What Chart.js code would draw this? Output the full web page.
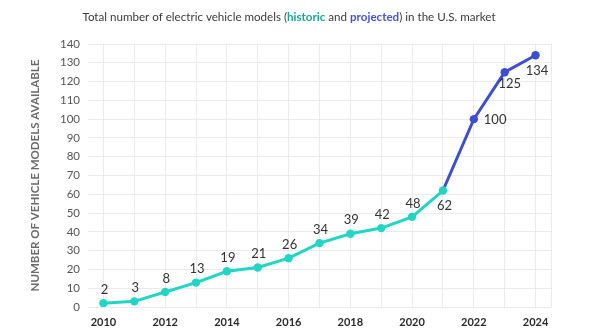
<!DOCTYPE html>
<html>
<head>
<meta charset="utf-8">
<script src="https://cdn.jsdelivr.net/npm/chart.js@4"></script>
<style>
  html, body { margin: 0; padding: 0; background: #ffffff; }
  #wrap { width: 595px; height: 336px; position: relative; }
</style>
</head>
<body>
<div id="wrap"><canvas id="ev"></canvas></div>
<script>
// Electric vehicle models available in the U.S. market
const historicYears = [2010, 2011, 2012, 2013, 2014, 2015, 2016, 2017, 2018, 2019, 2020, 2021];
const historicModels = [2, 3, 8, 13, 19, 21, 26, 34, 39, 42, 48, 62];
const projectedYears = [2021, 2022, 2023, 2024];
const projectedModels = [62, 100, 125, 134];
const yearTicks = [2010, 2011, 2012, 2013, 2014, 2015, 2016, 2017, 2018, 2019, 2020, 2021, 2022, 2023, 2024];

const FONT = "Lato, 'Open Sans', sans-serif";
const TEAL = '#22d6c4';
const BLUE = '#3d4fcf';

// where each value label sits relative to its point
const historicLabelSpot = ['above', 'above', 'above', 'above', 'above', 'above', 'above', 'above', 'above', 'above', 'above', 'below'];
const projectedLabelSpot = ['none', 'right', 'belowRight', 'below'];

const toPoints = (xs, ys) => xs.map((x, i) => ({ x: x, y: ys[i] }));

// headline with coloured keywords
const headline = {
  id: 'headline',
  afterDraw(chart) {
    const ctx = chart.ctx;
    const parts = [
      { t: 'Total number of electric vehicle models (', c: '#3a3a3a', w: '400' },
      { t: 'historic', c: '#15a899', w: '700' },
      { t: ' and ', c: '#3a3a3a', w: '400' },
      { t: 'projected', c: '#4652d6', w: '700' },
      { t: ') in the U.S. market', c: '#3a3a3a', w: '400' }
    ];
    const size = 11.6;
    ctx.save();
    ctx.textBaseline = 'middle';
    ctx.textAlign = 'left';
    let total = 0;
    parts.forEach(p => { ctx.font = p.w + ' ' + size + 'px ' + FONT; p.width = ctx.measureText(p.t).width; total += p.width; });
    let x = 289 - total / 2;
    parts.forEach(p => {
      ctx.font = p.w + ' ' + size + 'px ' + FONT;
      ctx.fillStyle = p.c;
      ctx.fillText(p.t, x, 17);
      x += p.width;
    });
    ctx.restore();
  }
};

// value labels next to the points
const valueLabels = {
  id: 'valueLabels',
  afterDatasetsDraw(chart) {
    const ctx = chart.ctx;
    const spots = [historicLabelSpot, projectedLabelSpot];
    ctx.save();
    ctx.font = '400 13px ' + FONT;
    ctx.fillStyle = '#333333';
    ctx.textBaseline = 'middle';
    chart.data.datasets.forEach((ds, di) => {
      const meta = chart.getDatasetMeta(di);
      meta.data.forEach((pt, i) => {
        const spot = spots[di][i];
        if (spot === 'none') return;
        const txt = String(ds.data[i].y);
        let x = pt.x, y = pt.y;
        ctx.textAlign = 'center';
        if (spot === 'above') { x += 1; y -= 13.5; }
        else if (spot === 'below') { x += 1.5; y += 15.5; }
        else if (spot === 'right') { ctx.textAlign = 'left'; x += 10; y += 1; }
        else if (spot === 'belowRight') { x += 5; y += 11.5; }
        ctx.fillText(txt, x, y);
      });
    });
    ctx.restore();
  }
};

new Chart(document.getElementById('ev'), {
  type: 'line',
  data: {
    datasets: [
      {
        label: 'historic',
        data: toPoints(historicYears, historicModels),
        borderColor: TEAL,
        backgroundColor: TEAL,
        borderWidth: 3,
        pointRadius: 4.2,
        pointHoverRadius: 4.2,
        pointBorderWidth: 0,
        tension: 0
      },
      {
        label: 'projected',
        data: toPoints(projectedYears, projectedModels),
        borderColor: BLUE,
        backgroundColor: BLUE,
        borderWidth: 3,
        pointRadius: [0, 4.2, 4.2, 4.2],
        pointHoverRadius: 4.2,
        pointBorderWidth: 0,
        tension: 0
      }
    ]
  },
  options: {
    responsive: true,
    maintainAspectRatio: false,
    animation: false,
    events: [],
    layout: { padding: { top: 44, right: 44, bottom: 0, left: 0 } },
    plugins: {
      legend: { display: false },
      tooltip: { enabled: false }
    },
    scales: {
      x: {
        type: 'linear',
        min: 2009.5,
        max: 2024.5,
        afterBuildTicks(scale) {
          scale.ticks = yearTicks.map(v => ({ value: v })).concat([{ value: 2024.5 }]);
        },
        afterFit(scale) { scale.height = 29; },
        grid: { color: '#ebebeb', lineWidth: 1, drawTicks: false },
        border: { display: false },
        ticks: {
          autoSkip: false,
          maxRotation: 0,
          padding: 9,
          color: '#2a2a2a',
          font: { family: FONT, size: 11, weight: '700' },
          callback(v) { return (Number.isInteger(v) && v % 2 === 0) ? String(v) : ''; }
        }
      },
      y: {
        min: 0,
        max: 140,
        afterFit(scale) { scale.width = 88; },
        grid: { color: '#ebebeb', lineWidth: 1, drawTicks: false },
        border: { display: false },
        ticks: {
          stepSize: 10,
          padding: 8,
          color: '#555555',
          font: { family: FONT, size: 11.5, weight: '400' }
        },
        title: {
          display: true,
          text: 'NUMBER OF VEHICLE MODELS AVAILABLE',
          color: '#6a6a6a',
          font: { family: FONT, size: 11.5, weight: '700', lineHeight: 1.2 },
          padding: { top: 28, bottom: 0 }
        }
      }
    }
  },
  plugins: [headline, valueLabels]
});
</script>
</body>
</html>
